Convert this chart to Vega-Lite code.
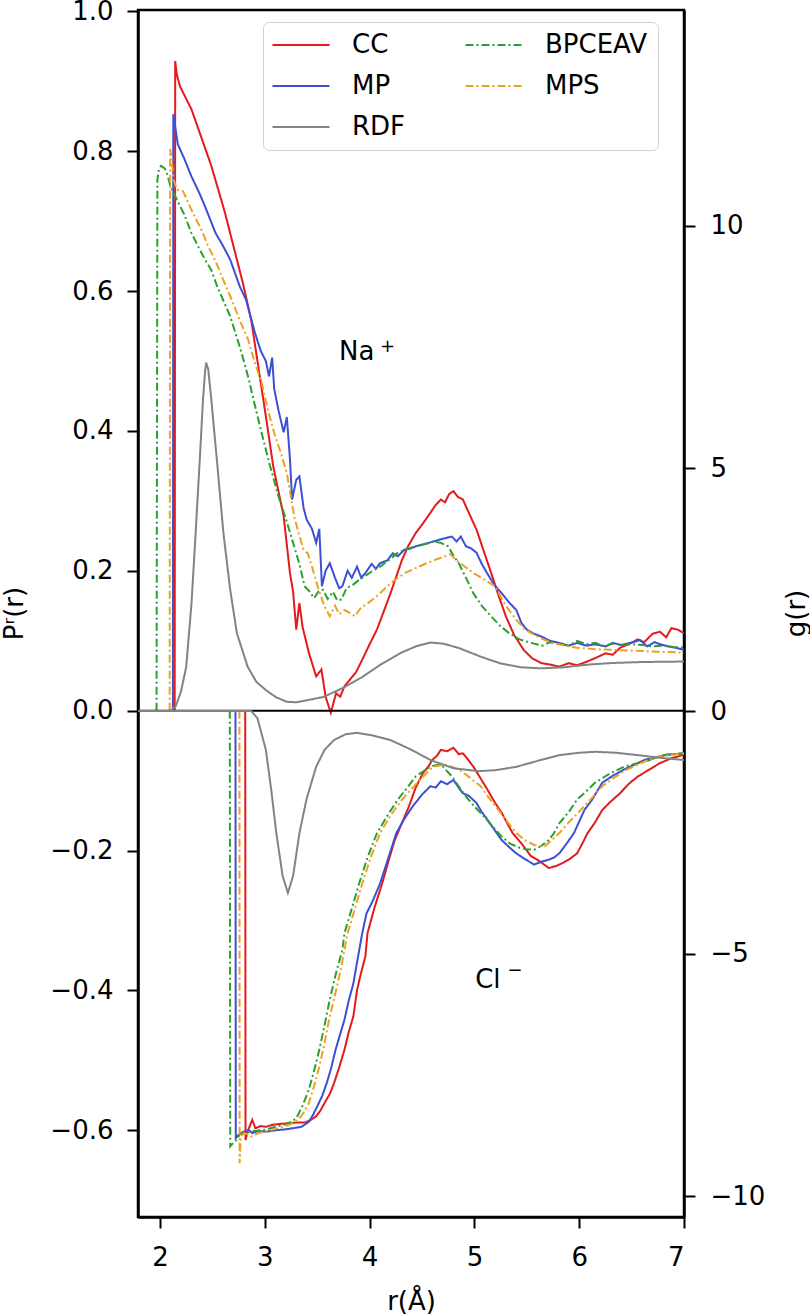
{
  "$schema": "https://vega.github.io/schema/vega-lite/v6.json",
  "autosize": {"type": "none"},
  "width": 546,
  "height": 1207,
  "padding": {"left": 138, "top": 10, "right": 126, "bottom": 97},
  "background": "white",
  "datasets": {
    "P": [
      {"m":"CC","i":"Na","r":2.14,"v":0},{"m":"CC","i":"Na","r":2.145,"v":0.929},{"m":"CC","i":"Na","r":2.16,"v":0.91},{"m":"CC","i":"Na","r":2.19,"v":0.893},{"m":"CC","i":"Na","r":2.25,"v":0.875},{"m":"CC","i":"Na","r":2.3,"v":0.86},{"m":"CC","i":"Na","r":2.38,"v":0.826},{"m":"CC","i":"Na","r":2.49,"v":0.779},{"m":"CC","i":"Na","r":2.62,"v":0.712},{"m":"CC","i":"Na","r":2.71,"v":0.659},{"m":"CC","i":"Na","r":2.79,"v":0.612},{"m":"CC","i":"Na","r":2.87,"v":0.559},{"m":"CC","i":"Na","r":2.94,"v":0.49},{"m":"CC","i":"Na","r":3.01,"v":0.421},{"m":"CC","i":"Na","r":3.08,"v":0.35},{"m":"CC","i":"Na","r":3.18,"v":0.278},{"m":"CC","i":"Na","r":3.24,"v":0.197},{"m":"CC","i":"Na","r":3.27,"v":0.17},{"m":"CC","i":"Na","r":3.3,"v":0.116},{"m":"CC","i":"Na","r":3.33,"v":0.154},{"m":"CC","i":"Na","r":3.36,"v":0.12},{"m":"CC","i":"Na","r":3.42,"v":0.083},{"m":"CC","i":"Na","r":3.49,"v":0.049},{"m":"CC","i":"Na","r":3.54,"v":0.059},{"m":"CC","i":"Na","r":3.58,"v":0.02},{"m":"CC","i":"Na","r":3.63,"v":-0.003},{"m":"CC","i":"Na","r":3.68,"v":0.025},{"m":"CC","i":"Na","r":3.72,"v":0.02},{"m":"CC","i":"Na","r":3.76,"v":0.035},{"m":"CC","i":"Na","r":3.81,"v":0.044},{"m":"CC","i":"Na","r":3.87,"v":0.055},{"m":"CC","i":"Na","r":3.93,"v":0.073},{"m":"CC","i":"Na","r":4.0,"v":0.095},{"m":"CC","i":"Na","r":4.07,"v":0.116},{"m":"CC","i":"Na","r":4.13,"v":0.14},{"m":"CC","i":"Na","r":4.2,"v":0.168},{"m":"CC","i":"Na","r":4.25,"v":0.19},{"m":"CC","i":"Na","r":4.31,"v":0.216},{"m":"CC","i":"Na","r":4.37,"v":0.236},{"m":"CC","i":"Na","r":4.44,"v":0.254},{"m":"CC","i":"Na","r":4.51,"v":0.268},{"m":"CC","i":"Na","r":4.58,"v":0.283},{"m":"CC","i":"Na","r":4.63,"v":0.294},{"m":"CC","i":"Na","r":4.68,"v":0.302},{"m":"CC","i":"Na","r":4.72,"v":0.298},{"m":"CC","i":"Na","r":4.76,"v":0.31},{"m":"CC","i":"Na","r":4.8,"v":0.314},{"m":"CC","i":"Na","r":4.84,"v":0.306},{"m":"CC","i":"Na","r":4.89,"v":0.302},{"m":"CC","i":"Na","r":4.95,"v":0.282},{"m":"CC","i":"Na","r":5.02,"v":0.259},{"m":"CC","i":"Na","r":5.09,"v":0.228},{"m":"CC","i":"Na","r":5.16,"v":0.197},{"m":"CC","i":"Na","r":5.23,"v":0.165},{"m":"CC","i":"Na","r":5.3,"v":0.135},{"m":"CC","i":"Na","r":5.38,"v":0.108},{"m":"CC","i":"Na","r":5.47,"v":0.087},{"m":"CC","i":"Na","r":5.55,"v":0.075},{"m":"CC","i":"Na","r":5.64,"v":0.068},{"m":"CC","i":"Na","r":5.72,"v":0.066},{"m":"CC","i":"Na","r":5.81,"v":0.063},{"m":"CC","i":"Na","r":5.9,"v":0.068},{"m":"CC","i":"Na","r":5.98,"v":0.065},{"m":"CC","i":"Na","r":6.07,"v":0.07},{"m":"CC","i":"Na","r":6.15,"v":0.075},{"m":"CC","i":"Na","r":6.25,"v":0.082},{"m":"CC","i":"Na","r":6.32,"v":0.08},{"m":"CC","i":"Na","r":6.39,"v":0.09},{"m":"CC","i":"Na","r":6.47,"v":0.095},{"m":"CC","i":"Na","r":6.56,"v":0.102},{"m":"CC","i":"Na","r":6.62,"v":0.098},{"m":"CC","i":"Na","r":6.7,"v":0.11},{"m":"CC","i":"Na","r":6.77,"v":0.113},{"m":"CC","i":"Na","r":6.83,"v":0.105},{"m":"CC","i":"Na","r":6.88,"v":0.118},{"m":"CC","i":"Na","r":6.94,"v":0.116},{"m":"CC","i":"Na","r":7.0,"v":0.111},

      {"m":"MP","i":"Na","r":2.123,"v":0},{"m":"MP","i":"Na","r":2.127,"v":0.853},{"m":"MP","i":"Na","r":2.15,"v":0.83},{"m":"MP","i":"Na","r":2.17,"v":0.81},{"m":"MP","i":"Na","r":2.23,"v":0.79},{"m":"MP","i":"Na","r":2.3,"v":0.764},{"m":"MP","i":"Na","r":2.37,"v":0.742},{"m":"MP","i":"Na","r":2.43,"v":0.721},{"m":"MP","i":"Na","r":2.53,"v":0.683},{"m":"MP","i":"Na","r":2.6,"v":0.665},{"m":"MP","i":"Na","r":2.67,"v":0.645},{"m":"MP","i":"Na","r":2.76,"v":0.607},{"m":"MP","i":"Na","r":2.82,"v":0.588},{"m":"MP","i":"Na","r":2.87,"v":0.56},{"m":"MP","i":"Na","r":2.905,"v":0.541},{"m":"MP","i":"Na","r":2.96,"v":0.515},{"m":"MP","i":"Na","r":3.01,"v":0.5},{"m":"MP","i":"Na","r":3.04,"v":0.478},{"m":"MP","i":"Na","r":3.07,"v":0.505},{"m":"MP","i":"Na","r":3.09,"v":0.46},{"m":"MP","i":"Na","r":3.13,"v":0.43},{"m":"MP","i":"Na","r":3.18,"v":0.398},{"m":"MP","i":"Na","r":3.21,"v":0.42},{"m":"MP","i":"Na","r":3.24,"v":0.36},{"m":"MP","i":"Na","r":3.26,"v":0.302},{"m":"MP","i":"Na","r":3.3,"v":0.33},{"m":"MP","i":"Na","r":3.33,"v":0.335},{"m":"MP","i":"Na","r":3.37,"v":0.29},{"m":"MP","i":"Na","r":3.4,"v":0.273},{"m":"MP","i":"Na","r":3.45,"v":0.26},{"m":"MP","i":"Na","r":3.49,"v":0.24},{"m":"MP","i":"Na","r":3.52,"v":0.26},{"m":"MP","i":"Na","r":3.545,"v":0.178},{"m":"MP","i":"Na","r":3.58,"v":0.2},{"m":"MP","i":"Na","r":3.62,"v":0.211},{"m":"MP","i":"Na","r":3.67,"v":0.19},{"m":"MP","i":"Na","r":3.71,"v":0.175},{"m":"MP","i":"Na","r":3.74,"v":0.178},{"m":"MP","i":"Na","r":3.79,"v":0.2},{"m":"MP","i":"Na","r":3.83,"v":0.19},{"m":"MP","i":"Na","r":3.88,"v":0.206},{"m":"MP","i":"Na","r":3.92,"v":0.19},{"m":"MP","i":"Na","r":3.96,"v":0.197},{"m":"MP","i":"Na","r":4.02,"v":0.21},{"m":"MP","i":"Na","r":4.06,"v":0.203},{"m":"MP","i":"Na","r":4.1,"v":0.211},{"m":"MP","i":"Na","r":4.17,"v":0.215},{"m":"MP","i":"Na","r":4.22,"v":0.225},{"m":"MP","i":"Na","r":4.27,"v":0.221},{"m":"MP","i":"Na","r":4.33,"v":0.23},{"m":"MP","i":"Na","r":4.39,"v":0.232},{"m":"MP","i":"Na","r":4.44,"v":0.235},{"m":"MP","i":"Na","r":4.52,"v":0.238},{"m":"MP","i":"Na","r":4.61,"v":0.242},{"m":"MP","i":"Na","r":4.7,"v":0.246},{"m":"MP","i":"Na","r":4.785,"v":0.249},{"m":"MP","i":"Na","r":4.83,"v":0.242},{"m":"MP","i":"Na","r":4.87,"v":0.249},{"m":"MP","i":"Na","r":4.92,"v":0.235},{"m":"MP","i":"Na","r":4.97,"v":0.232},{"m":"MP","i":"Na","r":5.02,"v":0.226},{"m":"MP","i":"Na","r":5.07,"v":0.21},{"m":"MP","i":"Na","r":5.12,"v":0.197},{"m":"MP","i":"Na","r":5.19,"v":0.18},{"m":"MP","i":"Na","r":5.26,"v":0.168},{"m":"MP","i":"Na","r":5.33,"v":0.155},{"m":"MP","i":"Na","r":5.4,"v":0.144},{"m":"MP","i":"Na","r":5.45,"v":0.125},{"m":"MP","i":"Na","r":5.5,"v":0.116},{"m":"MP","i":"Na","r":5.57,"v":0.11},{"m":"MP","i":"Na","r":5.64,"v":0.106},{"m":"MP","i":"Na","r":5.72,"v":0.1},{"m":"MP","i":"Na","r":5.81,"v":0.097},{"m":"MP","i":"Na","r":5.9,"v":0.093},{"m":"MP","i":"Na","r":5.98,"v":0.097},{"m":"MP","i":"Na","r":6.07,"v":0.093},{"m":"MP","i":"Na","r":6.15,"v":0.095},{"m":"MP","i":"Na","r":6.25,"v":0.092},{"m":"MP","i":"Na","r":6.32,"v":0.097},{"m":"MP","i":"Na","r":6.4,"v":0.094},{"m":"MP","i":"Na","r":6.49,"v":0.097},{"m":"MP","i":"Na","r":6.58,"v":0.101},{"m":"MP","i":"Na","r":6.65,"v":0.092},{"m":"MP","i":"Na","r":6.72,"v":0.098},{"m":"MP","i":"Na","r":6.77,"v":0.095},{"m":"MP","i":"Na","r":6.85,"v":0.092},{"m":"MP","i":"Na","r":6.92,"v":0.09},{"m":"MP","i":"Na","r":7.0,"v":0.087},

      {"m":"BPCEAV","i":"Na","r":1.967,"v":0},{"m":"BPCEAV","i":"Na","r":1.975,"v":0.76},{"m":"BPCEAV","i":"Na","r":1.99,"v":0.775},{"m":"BPCEAV","i":"Na","r":2.01,"v":0.779},{"m":"BPCEAV","i":"Na","r":2.04,"v":0.776},{"m":"BPCEAV","i":"Na","r":2.06,"v":0.772},{"m":"BPCEAV","i":"Na","r":2.1,"v":0.75},{"m":"BPCEAV","i":"Na","r":2.16,"v":0.731},{"m":"BPCEAV","i":"Na","r":2.23,"v":0.71},{"m":"BPCEAV","i":"Na","r":2.3,"v":0.683},{"m":"BPCEAV","i":"Na","r":2.36,"v":0.665},{"m":"BPCEAV","i":"Na","r":2.43,"v":0.645},{"m":"BPCEAV","i":"Na","r":2.49,"v":0.63},{"m":"BPCEAV","i":"Na","r":2.545,"v":0.607},{"m":"BPCEAV","i":"Na","r":2.6,"v":0.588},{"m":"BPCEAV","i":"Na","r":2.67,"v":0.564},{"m":"BPCEAV","i":"Na","r":2.72,"v":0.54},{"m":"BPCEAV","i":"Na","r":2.77,"v":0.516},{"m":"BPCEAV","i":"Na","r":2.84,"v":0.478},{"m":"BPCEAV","i":"Na","r":2.9,"v":0.44},{"m":"BPCEAV","i":"Na","r":2.97,"v":0.397},{"m":"BPCEAV","i":"Na","r":3.05,"v":0.35},{"m":"BPCEAV","i":"Na","r":3.14,"v":0.302},{"m":"BPCEAV","i":"Na","r":3.21,"v":0.27},{"m":"BPCEAV","i":"Na","r":3.28,"v":0.235},{"m":"BPCEAV","i":"Na","r":3.33,"v":0.21},{"m":"BPCEAV","i":"Na","r":3.38,"v":0.178},{"m":"BPCEAV","i":"Na","r":3.43,"v":0.17},{"m":"BPCEAV","i":"Na","r":3.47,"v":0.161},{"m":"BPCEAV","i":"Na","r":3.51,"v":0.17},{"m":"BPCEAV","i":"Na","r":3.555,"v":0.173},{"m":"BPCEAV","i":"Na","r":3.6,"v":0.16},{"m":"BPCEAV","i":"Na","r":3.65,"v":0.17},{"m":"BPCEAV","i":"Na","r":3.69,"v":0.158},{"m":"BPCEAV","i":"Na","r":3.73,"v":0.159},{"m":"BPCEAV","i":"Na","r":3.78,"v":0.175},{"m":"BPCEAV","i":"Na","r":3.84,"v":0.18},{"m":"BPCEAV","i":"Na","r":3.9,"v":0.187},{"m":"BPCEAV","i":"Na","r":3.96,"v":0.193},{"m":"BPCEAV","i":"Na","r":4.03,"v":0.2},{"m":"BPCEAV","i":"Na","r":4.1,"v":0.206},{"m":"BPCEAV","i":"Na","r":4.18,"v":0.215},{"m":"BPCEAV","i":"Na","r":4.27,"v":0.226},{"m":"BPCEAV","i":"Na","r":4.35,"v":0.231},{"m":"BPCEAV","i":"Na","r":4.44,"v":0.235},{"m":"BPCEAV","i":"Na","r":4.52,"v":0.238},{"m":"BPCEAV","i":"Na","r":4.61,"v":0.242},{"m":"BPCEAV","i":"Na","r":4.68,"v":0.24},{"m":"BPCEAV","i":"Na","r":4.75,"v":0.235},{"m":"BPCEAV","i":"Na","r":4.8,"v":0.222},{"m":"BPCEAV","i":"Na","r":4.85,"v":0.211},{"m":"BPCEAV","i":"Na","r":4.92,"v":0.19},{"m":"BPCEAV","i":"Na","r":4.99,"v":0.168},{"m":"BPCEAV","i":"Na","r":5.07,"v":0.15},{"m":"BPCEAV","i":"Na","r":5.16,"v":0.135},{"m":"BPCEAV","i":"Na","r":5.24,"v":0.122},{"m":"BPCEAV","i":"Na","r":5.33,"v":0.111},{"m":"BPCEAV","i":"Na","r":5.43,"v":0.102},{"m":"BPCEAV","i":"Na","r":5.54,"v":0.097},{"m":"BPCEAV","i":"Na","r":5.65,"v":0.093},{"m":"BPCEAV","i":"Na","r":5.72,"v":0.098},{"m":"BPCEAV","i":"Na","r":5.81,"v":0.095},{"m":"BPCEAV","i":"Na","r":5.9,"v":0.093},{"m":"BPCEAV","i":"Na","r":5.98,"v":0.1},{"m":"BPCEAV","i":"Na","r":6.07,"v":0.095},{"m":"BPCEAV","i":"Na","r":6.15,"v":0.097},{"m":"BPCEAV","i":"Na","r":6.25,"v":0.092},{"m":"BPCEAV","i":"Na","r":6.32,"v":0.096},{"m":"BPCEAV","i":"Na","r":6.4,"v":0.094},{"m":"BPCEAV","i":"Na","r":6.49,"v":0.095},{"m":"BPCEAV","i":"Na","r":6.6,"v":0.094},{"m":"BPCEAV","i":"Na","r":6.7,"v":0.092},{"m":"BPCEAV","i":"Na","r":6.8,"v":0.093},{"m":"BPCEAV","i":"Na","r":6.9,"v":0.091},{"m":"BPCEAV","i":"Na","r":7.0,"v":0.09},

      {"m":"MPS","i":"Na","r":2.092,"v":0},{"m":"MPS","i":"Na","r":2.097,"v":0.803},{"m":"MPS","i":"Na","r":2.11,"v":0.79},{"m":"MPS","i":"Na","r":2.13,"v":0.76},{"m":"MPS","i":"Na","r":2.16,"v":0.745},{"m":"MPS","i":"Na","r":2.22,"v":0.743},{"m":"MPS","i":"Na","r":2.27,"v":0.726},{"m":"MPS","i":"Na","r":2.33,"v":0.707},{"m":"MPS","i":"Na","r":2.4,"v":0.686},{"m":"MPS","i":"Na","r":2.46,"v":0.664},{"m":"MPS","i":"Na","r":2.53,"v":0.643},{"m":"MPS","i":"Na","r":2.59,"v":0.621},{"m":"MPS","i":"Na","r":2.65,"v":0.6},{"m":"MPS","i":"Na","r":2.71,"v":0.578},{"m":"MPS","i":"Na","r":2.77,"v":0.555},{"m":"MPS","i":"Na","r":2.84,"v":0.531},{"m":"MPS","i":"Na","r":2.9,"v":0.5},{"m":"MPS","i":"Na","r":2.97,"v":0.469},{"m":"MPS","i":"Na","r":3.03,"v":0.43},{"m":"MPS","i":"Na","r":3.09,"v":0.397},{"m":"MPS","i":"Na","r":3.15,"v":0.37},{"m":"MPS","i":"Na","r":3.21,"v":0.34},{"m":"MPS","i":"Na","r":3.28,"v":0.278},{"m":"MPS","i":"Na","r":3.33,"v":0.25},{"m":"MPS","i":"Na","r":3.37,"v":0.23},{"m":"MPS","i":"Na","r":3.41,"v":0.225},{"m":"MPS","i":"Na","r":3.45,"v":0.206},{"m":"MPS","i":"Na","r":3.51,"v":0.175},{"m":"MPS","i":"Na","r":3.57,"v":0.149},{"m":"MPS","i":"Na","r":3.62,"v":0.135},{"m":"MPS","i":"Na","r":3.67,"v":0.15},{"m":"MPS","i":"Na","r":3.71,"v":0.138},{"m":"MPS","i":"Na","r":3.76,"v":0.144},{"m":"MPS","i":"Na","r":3.81,"v":0.14},{"m":"MPS","i":"Na","r":3.86,"v":0.135},{"m":"MPS","i":"Na","r":3.92,"v":0.148},{"m":"MPS","i":"Na","r":3.97,"v":0.152},{"m":"MPS","i":"Na","r":4.03,"v":0.159},{"m":"MPS","i":"Na","r":4.1,"v":0.168},{"m":"MPS","i":"Na","r":4.17,"v":0.178},{"m":"MPS","i":"Na","r":4.25,"v":0.188},{"m":"MPS","i":"Na","r":4.34,"v":0.197},{"m":"MPS","i":"Na","r":4.44,"v":0.204},{"m":"MPS","i":"Na","r":4.545,"v":0.211},{"m":"MPS","i":"Na","r":4.63,"v":0.216},{"m":"MPS","i":"Na","r":4.72,"v":0.221},{"m":"MPS","i":"Na","r":4.77,"v":0.224},{"m":"MPS","i":"Na","r":4.82,"v":0.216},{"m":"MPS","i":"Na","r":4.9,"v":0.207},{"m":"MPS","i":"Na","r":4.99,"v":0.197},{"m":"MPS","i":"Na","r":5.09,"v":0.188},{"m":"MPS","i":"Na","r":5.195,"v":0.178},{"m":"MPS","i":"Na","r":5.3,"v":0.15},{"m":"MPS","i":"Na","r":5.4,"v":0.13},{"m":"MPS","i":"Na","r":5.47,"v":0.118},{"m":"MPS","i":"Na","r":5.54,"v":0.111},{"m":"MPS","i":"Na","r":5.64,"v":0.103},{"m":"MPS","i":"Na","r":5.74,"v":0.097},{"m":"MPS","i":"Na","r":5.86,"v":0.093},{"m":"MPS","i":"Na","r":5.98,"v":0.09},{"m":"MPS","i":"Na","r":6.15,"v":0.088},{"m":"MPS","i":"Na","r":6.32,"v":0.087},{"m":"MPS","i":"Na","r":6.49,"v":0.086},{"m":"MPS","i":"Na","r":6.66,"v":0.085},{"m":"MPS","i":"Na","r":6.83,"v":0.084},{"m":"MPS","i":"Na","r":7.0,"v":0.083},

      {"m":"CC","i":"Cl","r":2.813,"v":0},{"m":"CC","i":"Cl","r":2.816,"v":-0.614},{"m":"CC","i":"Cl","r":2.84,"v":-0.6},{"m":"CC","i":"Cl","r":2.88,"v":-0.585},{"m":"CC","i":"Cl","r":2.91,"v":-0.597},{"m":"CC","i":"Cl","r":2.96,"v":-0.594},{"m":"CC","i":"Cl","r":3.01,"v":-0.595},{"m":"CC","i":"Cl","r":3.08,"v":-0.592},{"m":"CC","i":"Cl","r":3.14,"v":-0.591},{"m":"CC","i":"Cl","r":3.21,"v":-0.59},{"m":"CC","i":"Cl","r":3.3,"v":-0.589},{"m":"CC","i":"Cl","r":3.38,"v":-0.589},{"m":"CC","i":"Cl","r":3.44,"v":-0.585},{"m":"CC","i":"Cl","r":3.49,"v":-0.58},{"m":"CC","i":"Cl","r":3.53,"v":-0.572},{"m":"CC","i":"Cl","r":3.57,"v":-0.561},{"m":"CC","i":"Cl","r":3.62,"v":-0.548},{"m":"CC","i":"Cl","r":3.66,"v":-0.533},{"m":"CC","i":"Cl","r":3.71,"v":-0.51},{"m":"CC","i":"Cl","r":3.76,"v":-0.485},{"m":"CC","i":"Cl","r":3.8,"v":-0.46},{"m":"CC","i":"Cl","r":3.845,"v":-0.437},{"m":"CC","i":"Cl","r":3.88,"v":-0.4},{"m":"CC","i":"Cl","r":3.91,"v":-0.38},{"m":"CC","i":"Cl","r":3.96,"v":-0.351},{"m":"CC","i":"Cl","r":3.98,"v":-0.318},{"m":"CC","i":"Cl","r":4.05,"v":-0.28},{"m":"CC","i":"Cl","r":4.12,"v":-0.247},{"m":"CC","i":"Cl","r":4.18,"v":-0.215},{"m":"CC","i":"Cl","r":4.24,"v":-0.185},{"m":"CC","i":"Cl","r":4.31,"v":-0.16},{"m":"CC","i":"Cl","r":4.375,"v":-0.137},{"m":"CC","i":"Cl","r":4.44,"v":-0.11},{"m":"CC","i":"Cl","r":4.51,"v":-0.089},{"m":"CC","i":"Cl","r":4.56,"v":-0.08},{"m":"CC","i":"Cl","r":4.6,"v":-0.07},{"m":"CC","i":"Cl","r":4.64,"v":-0.065},{"m":"CC","i":"Cl","r":4.68,"v":-0.056},{"m":"CC","i":"Cl","r":4.74,"v":-0.058},{"m":"CC","i":"Cl","r":4.8,"v":-0.053},{"m":"CC","i":"Cl","r":4.85,"v":-0.062},{"m":"CC","i":"Cl","r":4.89,"v":-0.061},{"m":"CC","i":"Cl","r":4.94,"v":-0.07},{"m":"CC","i":"Cl","r":4.99,"v":-0.08},{"m":"CC","i":"Cl","r":5.06,"v":-0.097},{"m":"CC","i":"Cl","r":5.125,"v":-0.113},{"m":"CC","i":"Cl","r":5.19,"v":-0.13},{"m":"CC","i":"Cl","r":5.26,"v":-0.146},{"m":"CC","i":"Cl","r":5.31,"v":-0.16},{"m":"CC","i":"Cl","r":5.365,"v":-0.175},{"m":"CC","i":"Cl","r":5.45,"v":-0.19},{"m":"CC","i":"Cl","r":5.54,"v":-0.208},{"m":"CC","i":"Cl","r":5.62,"v":-0.215},{"m":"CC","i":"Cl","r":5.71,"v":-0.225},{"m":"CC","i":"Cl","r":5.78,"v":-0.222},{"m":"CC","i":"Cl","r":5.84,"v":-0.218},{"m":"CC","i":"Cl","r":5.91,"v":-0.212},{"m":"CC","i":"Cl","r":5.98,"v":-0.204},{"m":"CC","i":"Cl","r":6.03,"v":-0.19},{"m":"CC","i":"Cl","r":6.08,"v":-0.175},{"m":"CC","i":"Cl","r":6.15,"v":-0.16},{"m":"CC","i":"Cl","r":6.22,"v":-0.142},{"m":"CC","i":"Cl","r":6.3,"v":-0.13},{"m":"CC","i":"Cl","r":6.39,"v":-0.118},{"m":"CC","i":"Cl","r":6.47,"v":-0.105},{"m":"CC","i":"Cl","r":6.56,"v":-0.094},{"m":"CC","i":"Cl","r":6.66,"v":-0.085},{"m":"CC","i":"Cl","r":6.77,"v":-0.075},{"m":"CC","i":"Cl","r":6.88,"v":-0.068},{"m":"CC","i":"Cl","r":7.0,"v":-0.063},

      {"m":"MP","i":"Cl","r":2.72,"v":0},{"m":"MP","i":"Cl","r":2.723,"v":-0.611},{"m":"MP","i":"Cl","r":2.76,"v":-0.605},{"m":"MP","i":"Cl","r":2.8,"v":-0.602},{"m":"MP","i":"Cl","r":2.85,"v":-0.6},{"m":"MP","i":"Cl","r":2.88,"v":-0.604},{"m":"MP","i":"Cl","r":2.94,"v":-0.601},{"m":"MP","i":"Cl","r":3.01,"v":-0.602},{"m":"MP","i":"Cl","r":3.1,"v":-0.6},{"m":"MP","i":"Cl","r":3.18,"v":-0.599},{"m":"MP","i":"Cl","r":3.27,"v":-0.597},{"m":"MP","i":"Cl","r":3.35,"v":-0.595},{"m":"MP","i":"Cl","r":3.42,"v":-0.588},{"m":"MP","i":"Cl","r":3.46,"v":-0.578},{"m":"MP","i":"Cl","r":3.5,"v":-0.566},{"m":"MP","i":"Cl","r":3.55,"v":-0.55},{"m":"MP","i":"Cl","r":3.59,"v":-0.533},{"m":"MP","i":"Cl","r":3.635,"v":-0.51},{"m":"MP","i":"Cl","r":3.675,"v":-0.485},{"m":"MP","i":"Cl","r":3.72,"v":-0.462},{"m":"MP","i":"Cl","r":3.76,"v":-0.442},{"m":"MP","i":"Cl","r":3.8,"v":-0.415},{"m":"MP","i":"Cl","r":3.845,"v":-0.39},{"m":"MP","i":"Cl","r":3.88,"v":-0.36},{"m":"MP","i":"Cl","r":3.93,"v":-0.318},{"m":"MP","i":"Cl","r":3.97,"v":-0.29},{"m":"MP","i":"Cl","r":4.03,"v":-0.272},{"m":"MP","i":"Cl","r":4.1,"v":-0.247},{"m":"MP","i":"Cl","r":4.18,"v":-0.21},{"m":"MP","i":"Cl","r":4.255,"v":-0.175},{"m":"MP","i":"Cl","r":4.33,"v":-0.155},{"m":"MP","i":"Cl","r":4.41,"v":-0.137},{"m":"MP","i":"Cl","r":4.5,"v":-0.12},{"m":"MP","i":"Cl","r":4.58,"v":-0.108},{"m":"MP","i":"Cl","r":4.63,"v":-0.11},{"m":"MP","i":"Cl","r":4.68,"v":-0.101},{"m":"MP","i":"Cl","r":4.74,"v":-0.105},{"m":"MP","i":"Cl","r":4.8,"v":-0.099},{"m":"MP","i":"Cl","r":4.85,"v":-0.11},{"m":"MP","i":"Cl","r":4.89,"v":-0.118},{"m":"MP","i":"Cl","r":4.95,"v":-0.122},{"m":"MP","i":"Cl","r":5.02,"v":-0.132},{"m":"MP","i":"Cl","r":5.07,"v":-0.145},{"m":"MP","i":"Cl","r":5.125,"v":-0.156},{"m":"MP","i":"Cl","r":5.19,"v":-0.17},{"m":"MP","i":"Cl","r":5.26,"v":-0.185},{"m":"MP","i":"Cl","r":5.33,"v":-0.195},{"m":"MP","i":"Cl","r":5.4,"v":-0.204},{"m":"MP","i":"Cl","r":5.48,"v":-0.212},{"m":"MP","i":"Cl","r":5.57,"v":-0.22},{"m":"MP","i":"Cl","r":5.64,"v":-0.216},{"m":"MP","i":"Cl","r":5.71,"v":-0.213},{"m":"MP","i":"Cl","r":5.76,"v":-0.21},{"m":"MP","i":"Cl","r":5.81,"v":-0.204},{"m":"MP","i":"Cl","r":5.88,"v":-0.19},{"m":"MP","i":"Cl","r":5.95,"v":-0.175},{"m":"MP","i":"Cl","r":6.05,"v":-0.142},{"m":"MP","i":"Cl","r":6.12,"v":-0.128},{"m":"MP","i":"Cl","r":6.22,"v":-0.103},{"m":"MP","i":"Cl","r":6.32,"v":-0.093},{"m":"MP","i":"Cl","r":6.43,"v":-0.084},{"m":"MP","i":"Cl","r":6.53,"v":-0.077},{"m":"MP","i":"Cl","r":6.63,"v":-0.07},{"m":"MP","i":"Cl","r":6.73,"v":-0.067},{"m":"MP","i":"Cl","r":6.83,"v":-0.063},{"m":"MP","i":"Cl","r":7.0,"v":-0.061},

      {"m":"BPCEAV","i":"Cl","r":2.666,"v":0},{"m":"BPCEAV","i":"Cl","r":2.67,"v":-0.623},{"m":"BPCEAV","i":"Cl","r":2.7,"v":-0.618},{"m":"BPCEAV","i":"Cl","r":2.73,"v":-0.614},{"m":"BPCEAV","i":"Cl","r":2.76,"v":-0.606},{"m":"BPCEAV","i":"Cl","r":2.8,"v":-0.604},{"m":"BPCEAV","i":"Cl","r":2.9,"v":-0.601},{"m":"BPCEAV","i":"Cl","r":3.01,"v":-0.599},{"m":"BPCEAV","i":"Cl","r":3.1,"v":-0.595},{"m":"BPCEAV","i":"Cl","r":3.18,"v":-0.592},{"m":"BPCEAV","i":"Cl","r":3.25,"v":-0.588},{"m":"BPCEAV","i":"Cl","r":3.3,"v":-0.583},{"m":"BPCEAV","i":"Cl","r":3.36,"v":-0.565},{"m":"BPCEAV","i":"Cl","r":3.42,"v":-0.542},{"m":"BPCEAV","i":"Cl","r":3.47,"v":-0.515},{"m":"BPCEAV","i":"Cl","r":3.52,"v":-0.485},{"m":"BPCEAV","i":"Cl","r":3.57,"v":-0.45},{"m":"BPCEAV","i":"Cl","r":3.62,"v":-0.413},{"m":"BPCEAV","i":"Cl","r":3.68,"v":-0.375},{"m":"BPCEAV","i":"Cl","r":3.74,"v":-0.342},{"m":"BPCEAV","i":"Cl","r":3.76,"v":-0.318},{"m":"BPCEAV","i":"Cl","r":3.83,"v":-0.283},{"m":"BPCEAV","i":"Cl","r":3.9,"v":-0.247},{"m":"BPCEAV","i":"Cl","r":3.98,"v":-0.21},{"m":"BPCEAV","i":"Cl","r":4.07,"v":-0.175},{"m":"BPCEAV","i":"Cl","r":4.17,"v":-0.15},{"m":"BPCEAV","i":"Cl","r":4.27,"v":-0.127},{"m":"BPCEAV","i":"Cl","r":4.36,"v":-0.11},{"m":"BPCEAV","i":"Cl","r":4.44,"v":-0.094},{"m":"BPCEAV","i":"Cl","r":4.51,"v":-0.087},{"m":"BPCEAV","i":"Cl","r":4.58,"v":-0.08},{"m":"BPCEAV","i":"Cl","r":4.63,"v":-0.078},{"m":"BPCEAV","i":"Cl","r":4.68,"v":-0.077},{"m":"BPCEAV","i":"Cl","r":4.73,"v":-0.085},{"m":"BPCEAV","i":"Cl","r":4.785,"v":-0.094},{"m":"BPCEAV","i":"Cl","r":4.85,"v":-0.108},{"m":"BPCEAV","i":"Cl","r":4.92,"v":-0.123},{"m":"BPCEAV","i":"Cl","r":5.0,"v":-0.137},{"m":"BPCEAV","i":"Cl","r":5.09,"v":-0.151},{"m":"BPCEAV","i":"Cl","r":5.17,"v":-0.165},{"m":"BPCEAV","i":"Cl","r":5.26,"v":-0.18},{"m":"BPCEAV","i":"Cl","r":5.34,"v":-0.19},{"m":"BPCEAV","i":"Cl","r":5.43,"v":-0.196},{"m":"BPCEAV","i":"Cl","r":5.5,"v":-0.198},{"m":"BPCEAV","i":"Cl","r":5.57,"v":-0.199},{"m":"BPCEAV","i":"Cl","r":5.64,"v":-0.193},{"m":"BPCEAV","i":"Cl","r":5.71,"v":-0.185},{"m":"BPCEAV","i":"Cl","r":5.76,"v":-0.175},{"m":"BPCEAV","i":"Cl","r":5.81,"v":-0.161},{"m":"BPCEAV","i":"Cl","r":5.9,"v":-0.145},{"m":"BPCEAV","i":"Cl","r":5.98,"v":-0.127},{"m":"BPCEAV","i":"Cl","r":6.07,"v":-0.115},{"m":"BPCEAV","i":"Cl","r":6.15,"v":-0.103},{"m":"BPCEAV","i":"Cl","r":6.29,"v":-0.09},{"m":"BPCEAV","i":"Cl","r":6.43,"v":-0.08},{"m":"BPCEAV","i":"Cl","r":6.53,"v":-0.076},{"m":"BPCEAV","i":"Cl","r":6.63,"v":-0.073},{"m":"BPCEAV","i":"Cl","r":6.73,"v":-0.067},{"m":"BPCEAV","i":"Cl","r":6.83,"v":-0.063},{"m":"BPCEAV","i":"Cl","r":7.0,"v":-0.061},

      {"m":"MPS","i":"Cl","r":2.758,"v":0},{"m":"MPS","i":"Cl","r":2.76,"v":-0.647},{"m":"MPS","i":"Cl","r":2.77,"v":-0.61},{"m":"MPS","i":"Cl","r":2.8,"v":-0.604},{"m":"MPS","i":"Cl","r":2.84,"v":-0.606},{"m":"MPS","i":"Cl","r":2.87,"v":-0.609},{"m":"MPS","i":"Cl","r":2.94,"v":-0.604},{"m":"MPS","i":"Cl","r":3.01,"v":-0.602},{"m":"MPS","i":"Cl","r":3.1,"v":-0.598},{"m":"MPS","i":"Cl","r":3.18,"v":-0.595},{"m":"MPS","i":"Cl","r":3.25,"v":-0.591},{"m":"MPS","i":"Cl","r":3.32,"v":-0.585},{"m":"MPS","i":"Cl","r":3.37,"v":-0.575},{"m":"MPS","i":"Cl","r":3.42,"v":-0.561},{"m":"MPS","i":"Cl","r":3.47,"v":-0.537},{"m":"MPS","i":"Cl","r":3.52,"v":-0.509},{"m":"MPS","i":"Cl","r":3.57,"v":-0.475},{"m":"MPS","i":"Cl","r":3.62,"v":-0.437},{"m":"MPS","i":"Cl","r":3.68,"v":-0.4},{"m":"MPS","i":"Cl","r":3.73,"v":-0.366},{"m":"MPS","i":"Cl","r":3.79,"v":-0.318},{"m":"MPS","i":"Cl","r":3.86,"v":-0.283},{"m":"MPS","i":"Cl","r":3.93,"v":-0.247},{"m":"MPS","i":"Cl","r":4.01,"v":-0.21},{"m":"MPS","i":"Cl","r":4.1,"v":-0.175},{"m":"MPS","i":"Cl","r":4.2,"v":-0.15},{"m":"MPS","i":"Cl","r":4.31,"v":-0.127},{"m":"MPS","i":"Cl","r":4.4,"v":-0.112},{"m":"MPS","i":"Cl","r":4.48,"v":-0.099},{"m":"MPS","i":"Cl","r":4.55,"v":-0.088},{"m":"MPS","i":"Cl","r":4.61,"v":-0.08},{"m":"MPS","i":"Cl","r":4.71,"v":-0.077},{"m":"MPS","i":"Cl","r":4.78,"v":-0.08},{"m":"MPS","i":"Cl","r":4.85,"v":-0.084},{"m":"MPS","i":"Cl","r":4.95,"v":-0.095},{"m":"MPS","i":"Cl","r":5.06,"v":-0.108},{"m":"MPS","i":"Cl","r":5.14,"v":-0.125},{"m":"MPS","i":"Cl","r":5.23,"v":-0.142},{"m":"MPS","i":"Cl","r":5.31,"v":-0.158},{"m":"MPS","i":"Cl","r":5.4,"v":-0.175},{"m":"MPS","i":"Cl","r":5.48,"v":-0.185},{"m":"MPS","i":"Cl","r":5.57,"v":-0.192},{"m":"MPS","i":"Cl","r":5.67,"v":-0.194},{"m":"MPS","i":"Cl","r":5.74,"v":-0.185},{"m":"MPS","i":"Cl","r":5.81,"v":-0.175},{"m":"MPS","i":"Cl","r":5.91,"v":-0.158},{"m":"MPS","i":"Cl","r":6.015,"v":-0.142},{"m":"MPS","i":"Cl","r":6.12,"v":-0.125},{"m":"MPS","i":"Cl","r":6.22,"v":-0.108},{"m":"MPS","i":"Cl","r":6.34,"v":-0.095},{"m":"MPS","i":"Cl","r":6.46,"v":-0.084},{"m":"MPS","i":"Cl","r":6.56,"v":-0.077},{"m":"MPS","i":"Cl","r":6.66,"v":-0.07},{"m":"MPS","i":"Cl","r":6.8,"v":-0.065},{"m":"MPS","i":"Cl","r":7.0,"v":-0.061}
    ],
    "G": [
      {"m":"RDF","i":"Na","r":1.79,"v":0},{"m":"RDF","i":"Na","r":2.1,"v":0},{"m":"RDF","i":"Na","r":2.15,"v":0.1},{"m":"RDF","i":"Na","r":2.2,"v":0.4},{"m":"RDF","i":"Na","r":2.25,"v":0.91},{"m":"RDF","i":"Na","r":2.3,"v":2.2},{"m":"RDF","i":"Na","r":2.34,"v":3.67},{"m":"RDF","i":"Na","r":2.38,"v":5.2},{"m":"RDF","i":"Na","r":2.41,"v":6.41},{"m":"RDF","i":"Na","r":2.43,"v":7.0},{"m":"RDF","i":"Na","r":2.44,"v":7.18},{"m":"RDF","i":"Na","r":2.46,"v":7.05},{"m":"RDF","i":"Na","r":2.49,"v":6.41},{"m":"RDF","i":"Na","r":2.55,"v":5.0},{"m":"RDF","i":"Na","r":2.605,"v":3.67},{"m":"RDF","i":"Na","r":2.67,"v":2.5},{"m":"RDF","i":"Na","r":2.734,"v":1.6},{"m":"RDF","i":"Na","r":2.837,"v":0.91},{"m":"RDF","i":"Na","r":2.92,"v":0.6},{"m":"RDF","i":"Na","r":3.01,"v":0.43},{"m":"RDF","i":"Na","r":3.11,"v":0.28},{"m":"RDF","i":"Na","r":3.21,"v":0.19},{"m":"RDF","i":"Na","r":3.3,"v":0.18},{"m":"RDF","i":"Na","r":3.4,"v":0.22},{"m":"RDF","i":"Na","r":3.56,"v":0.29},{"m":"RDF","i":"Na","r":3.75,"v":0.48},{"m":"RDF","i":"Na","r":3.93,"v":0.7},{"m":"RDF","i":"Na","r":4.1,"v":0.95},{"m":"RDF","i":"Na","r":4.3,"v":1.2},{"m":"RDF","i":"Na","r":4.45,"v":1.34},{"m":"RDF","i":"Na","r":4.58,"v":1.41},{"m":"RDF","i":"Na","r":4.7,"v":1.39},{"m":"RDF","i":"Na","r":4.85,"v":1.3},{"m":"RDF","i":"Na","r":5.06,"v":1.12},{"m":"RDF","i":"Na","r":5.25,"v":0.98},{"m":"RDF","i":"Na","r":5.45,"v":0.9},{"m":"RDF","i":"Na","r":5.64,"v":0.88},{"m":"RDF","i":"Na","r":5.85,"v":0.9},{"m":"RDF","i":"Na","r":6.1,"v":0.96},{"m":"RDF","i":"Na","r":6.32,"v":0.99},{"m":"RDF","i":"Na","r":6.6,"v":1.01},{"m":"RDF","i":"Na","r":7.0,"v":1.02},
      {"m":"RDF","i":"Cl","r":1.79,"v":0},{"m":"RDF","i":"Cl","r":2.87,"v":0},{"m":"RDF","i":"Cl","r":2.93,"v":-0.15},{"m":"RDF","i":"Cl","r":3.01,"v":-0.8},{"m":"RDF","i":"Cl","r":3.06,"v":-1.6},{"m":"RDF","i":"Cl","r":3.11,"v":-2.52},{"m":"RDF","i":"Cl","r":3.17,"v":-3.4},{"m":"RDF","i":"Cl","r":3.22,"v":-3.75},{"m":"RDF","i":"Cl","r":3.27,"v":-3.4},{"m":"RDF","i":"Cl","r":3.33,"v":-2.52},{"m":"RDF","i":"Cl","r":3.4,"v":-1.8},{"m":"RDF","i":"Cl","r":3.49,"v":-1.15},{"m":"RDF","i":"Cl","r":3.57,"v":-0.8},{"m":"RDF","i":"Cl","r":3.66,"v":-0.6},{"m":"RDF","i":"Cl","r":3.77,"v":-0.48},{"m":"RDF","i":"Cl","r":3.88,"v":-0.45},{"m":"RDF","i":"Cl","r":4.02,"v":-0.5},{"m":"RDF","i":"Cl","r":4.2,"v":-0.6},{"m":"RDF","i":"Cl","r":4.4,"v":-0.8},{"m":"RDF","i":"Cl","r":4.58,"v":-1.01},{"m":"RDF","i":"Cl","r":4.8,"v":-1.18},{"m":"RDF","i":"Cl","r":5.04,"v":-1.24},{"m":"RDF","i":"Cl","r":5.2,"v":-1.22},{"m":"RDF","i":"Cl","r":5.4,"v":-1.15},{"m":"RDF","i":"Cl","r":5.6,"v":-1.03},{"m":"RDF","i":"Cl","r":5.81,"v":-0.91},{"m":"RDF","i":"Cl","r":6.0,"v":-0.86},{"m":"RDF","i":"Cl","r":6.15,"v":-0.84},{"m":"RDF","i":"Cl","r":6.35,"v":-0.86},{"m":"RDF","i":"Cl","r":6.56,"v":-0.91},{"m":"RDF","i":"Cl","r":6.8,"v":-0.97},{"m":"RDF","i":"Cl","r":7.0,"v":-1.01}
    ],
    "L": [
      {"r":3.708,"v":0.502,"t":"Na"},
      {"r":5.007,"v":-0.396,"t":"Cl"}
    ],
    "S": [
      {"r":4.10,"v":0.513,"t":"+"},
      {"r":5.317,"v":-0.38,"t":"−"}
    ]
  },
  "layer": [
    {
      "layer": [
        {
          "data": {"name": "P"},
          "mark": {"type": "line", "strokeWidth": 2, "clip": true},
          "encoding": {
            "x": {"field": "r", "type": "quantitative", "scale": {"domain": [1.79, 7], "nice": false, "zero": false},
                  "axis": {"values": [2,3,4,5,6,7], "format": "d", "labelPadding": 37, "labelBaseline": "alphabetic", "title": "r(Å)", "titleX": 273, "titleY": 92, "titleBaseline": "alphabetic", "titleAlign": "center"}},
            "y": {"field": "v", "type": "quantitative", "scale": {"domain": [-0.724, 1.002], "nice": false, "zero": false},
                  "axis": {"values": [-0.6,-0.4,-0.2,0,0.2,0.4,0.6,0.8,1.0], "format": ".1f", "labelPadding": 14, "title": "Pʳ(r)", "titleX": -124, "titleY": 603, "titleAngle": -90, "titleBaseline": "middle", "titleAlign": "center"}},
            "color": {"field": "m", "type": "nominal", "title": null,
                      "scale": {"domain": ["CC","MP","RDF","BPCEAV","MPS"], "range": ["#e41a1c","#3b50d6","#7f8585","#2ca02c","#f0a020"]}},
            "strokeDash": {"field": "m", "type": "nominal", "title": null,
                      "scale": {"domain": ["CC","MP","RDF","BPCEAV","MPS"], "range": [[1,0],[1,0],[1,0],[8,3,2,3],[8,3,2,3]]}},
            "detail": {"field": "i"}
          }
        },
        {
          "data": {"values": [{"z": 0}]},
          "mark": {"type": "rule", "color": "black", "strokeWidth": 2},
          "encoding": {"y": {"field": "z", "type": "quantitative", "title": "Pʳ(r)"}}
        },
        {
          "data": {"name": "L"},
          "mark": {"type": "text", "fontSize": 26, "font": "DejaVu Sans", "align": "left", "baseline": "alphabetic", "color": "black"},
          "encoding": {
            "x": {"field": "r", "type": "quantitative"},
            "y": {"field": "v", "type": "quantitative", "title": "Pʳ(r)"},
            "text": {"field": "t"}
          }
        },
        {
          "data": {"name": "S"},
          "mark": {"type": "text", "fontSize": 18, "font": "DejaVu Sans", "align": "left", "baseline": "alphabetic", "color": "black"},
          "encoding": {
            "x": {"field": "r", "type": "quantitative"},
            "y": {"field": "v", "type": "quantitative", "title": "Pʳ(r)"},
            "text": {"field": "t"}
          }
        }
      ]
    },
    {
      "data": {"name": "G"},
      "mark": {"type": "line", "strokeWidth": 2, "clip": true},
      "encoding": {
        "x": {"field": "r", "type": "quantitative"},
        "y": {"field": "v", "type": "quantitative", "scale": {"domain": [-10.43, 14.45], "nice": false, "zero": false},
              "axis": {"orient": "right", "values": [-10,-5,0,5,10], "format": "d", "labelPadding": 15, "title": "g(r)", "titleX": 112, "titleY": 603, "titleAngle": -90, "titleBaseline": "middle", "titleAlign": "center"}},
        "color": {"field": "m", "type": "nominal", "title": null},
        "strokeDash": {"field": "m", "type": "nominal", "title": null},
        "detail": {"field": "i"}
      }
    }
  ],
  "resolve": {"scale": {"y": "independent"}},
  "config": {
    "font": "DejaVu Sans",
    "view": {"stroke": "black", "strokeWidth": 2.5},
    "axis": {"grid": false, "domainColor": "black", "domainWidth": 2.5, "tickColor": "black", "tickWidth": 2, "tickSize": 11,
             "labelFont": "DejaVu Sans", "labelFontSize": 26, "labelColor": "black",
             "titleFont": "DejaVu Sans", "titleFontSize": 26, "titleFontWeight": "normal", "titleColor": "black"},
    "legend": {"orient": "none", "legendX": 125, "legendY": 12, "columns": 2, "columnPadding": 55, "rowPadding": 15,
               "padding": 10, "symbolType": "M-5.7,0L5.7,0", "symbolSize": 100, "symbolStrokeWidth": 2, "symbolOffset": 15,
               "labelFont": "DejaVu Sans", "labelFontSize": 26, "labelColor": "black", "labelOffset": 38,
               "strokeColor": "#d0d0d0", "fillColor": "rgba(255,255,255,0.8)", "cornerRadius": 6}
  }
}
